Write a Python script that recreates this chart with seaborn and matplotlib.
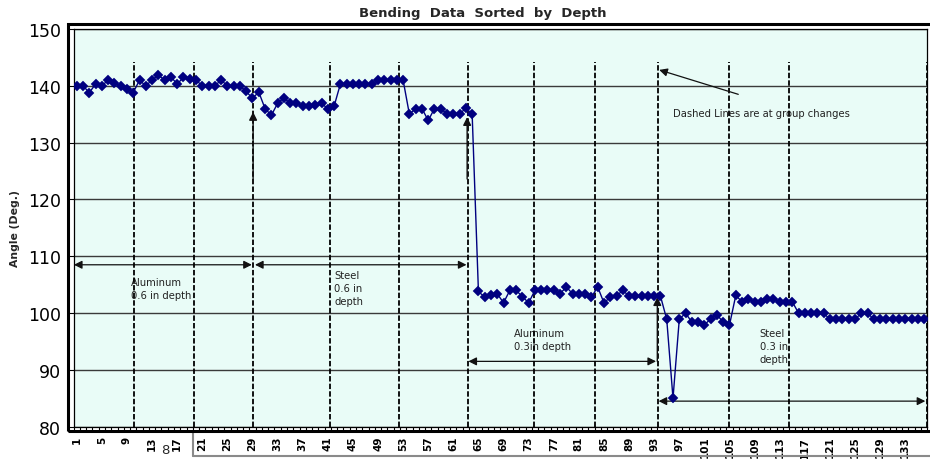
import numpy as np
import pandas as pd
import matplotlib
matplotlib.use("Agg")
import matplotlib.pyplot as plt
import seaborn as sns
from matplotlib.patches import Rectangle
from matplotlib.lines import Line2D

sns.set_theme(style="white")
plt.rcParams["font.family"] = ["DejaVu Sans"]

# Bend angle (degrees) for each specimen, sorted by depth
angles = [
    140.0, 140.0, 138.8, 140.3, 140.0, 141.0, 140.5, 140.0, 139.4, 138.8,
    141.0, 140.0, 141.0, 141.9, 141.0, 141.6, 140.3, 141.5, 141.2, 141.0,
    140.0, 140.0, 140.0, 141.0, 140.0, 140.0, 140.0, 139.0, 137.8, 138.9,
    136.0, 134.8, 136.9, 137.9, 136.9, 136.9, 136.5, 136.5, 136.6, 136.9,
    136.0, 136.4, 140.3, 140.3, 140.3, 140.3, 140.3, 140.3, 141.0, 141.0,
    141.0, 141.0, 141.0, 135.0, 136.0, 136.0, 133.9, 136.0, 136.0, 135.0,
    135.0, 135.0, 136.1, 135.0, 103.8, 102.8, 103.1, 103.4, 101.8, 104.0,
    104.0, 102.9, 101.8, 104.0, 104.0, 104.0, 104.0, 103.4, 104.6, 103.4,
    103.4, 103.4, 102.8, 104.6, 101.8, 102.8, 103.0, 104.0, 103.0, 103.0,
    103.0, 103.0, 103.0, 103.0, 98.9, 85.0, 98.9, 100.0, 98.4, 98.4,
    97.9, 99.0, 99.7, 98.4, 97.9, 103.1, 102.0, 102.4, 102.0, 102.0,
    102.4, 102.4, 102.0, 102.0, 102.0, 100.0, 100.0, 100.0, 100.0, 100.0,
    98.9, 98.9, 98.9, 98.9, 98.9, 100.0, 100.0, 98.9, 98.9, 98.9,
    98.9, 98.9, 98.9, 98.9, 98.9, 98.9,
]
samples = list(range(1, len(angles) + 1))
tick_samples = list(range(1, 134, 4))
y_ticks = [80, 90, 100, 110, 120, 130, 140, 150]

# Positions of the dashed group-change markers (in sample units)
group_breaks = [10.1, 19.7, 29.1, 41.4, 52.4, 63.4, 73.9, 83.6, 93.6, 104.9, 114.5, 136.4]

title = "Bending  Data  Sorted  by  Depth"
y_label = "Angle (Deg.)"
note = "Dashed Lines are at group changes"

# (label, arrow start, arrow end, arrow level, text x, text top)
groups = [
    ("Aluminum\n0.6 in depth", 0.55, 28.9, 108.5, 9.65, 106.4),
    ("Steel\n0.6 in\ndepth", 29.4, 63.1, 108.5, 42.0, 107.5),
    ("Aluminum\n0.3in depth", 63.4, 93.3, 91.5, 70.6, 97.3),
    ("Steel\n0.3 in\ndepth", 93.7, 136.2, 84.5, 109.8, 97.3),
]
# (x, tail level, tip level)
pointers = [(29.1, 123.6, 135.4), (63.2, 123.6, 134.5), (93.5, 91.5, 102.8)]

df = pd.DataFrame({"Sample": samples, "Angle": angles})

W, H = 930, 460
fig = plt.figure(figsize=(W / 100, H / 100), dpi=100)
fig.patch.set_facecolor("white")
left, right, top, bottom = 73.6, 927.2, 30.0, 427.7
ax = fig.add_axes([left / W, 1 - bottom / H, (right - left) / W, (bottom - top) / H])
ax.set_facecolor("#e9fcf7")

ax.set_xlim(0.5, len(angles) + 0.5)
ax.set_ylim(80, 150)

# horizontal grid
ax.set_yticks(y_ticks)
ax.yaxis.grid(True, color="#3a3a3a", lw=1.0)
ax.xaxis.grid(False)
ax.set_axisbelow(True)

# dashed group-change markers
for b in group_breaks:
    ax.axvline(b, ymin=0, ymax=(144.2 - 80) / 70, color="black", lw=1.3,
               linestyle=(0, (3, 1.2)), zorder=4)

# data series
sns.lineplot(data=df, x="Sample", y="Angle", ax=ax, color="#000080", lw=1.0,
             marker="D", markersize=5.0, markeredgecolor="#000080",
             markeredgewidth=0.3, zorder=6)

# group spans and labels
for label, x0, x1, lvl, tx, ty in groups:
    ax.annotate("", xy=(x1, lvl), xytext=(x0, lvl),
                arrowprops=dict(arrowstyle="<|-|>", color="#111111", lw=0.9,
                                mutation_scale=12, shrinkA=0, shrinkB=0), zorder=3)
    ax.text(tx, ty, label, fontsize=7.2, color="#222222", ha="left", va="top",
            linespacing=1.35, zorder=3)

for x, tail, tip in pointers:
    ax.annotate("", xy=(x, tip), xytext=(x, tail),
                arrowprops=dict(arrowstyle="-|>", color="#111111", lw=1.0,
                                mutation_scale=12, shrinkA=0, shrinkB=0), zorder=5)

# note with pointer
ax.annotate("", xy=(93.8, 142.8), xytext=(106.4, 138.5),
            arrowprops=dict(arrowstyle="-|>", color="#111111", lw=0.9,
                            mutation_scale=12, shrinkA=0, shrinkB=0), zorder=5)
ax.text(96.0, 135.2, note, fontsize=7.2, color="#222222", ha="left", va="center", zorder=3)

# axes styling
for s in ax.spines.values():
    s.set_color("black")
    s.set_linewidth(0.9)
ax.set_xticks(tick_samples)
ax.set_xticklabels([str(t) for t in tick_samples])
ax.set_xticks(np.arange(0.5, len(angles) + 1, 1), minor=True)
ax.tick_params(axis="x", which="major", length=0, pad=6.5, labelsize=7.5,
               labelrotation=90, colors="black")
ax.tick_params(axis="x", which="minor", length=3, width=0.8, direction="out",
               color="black", bottom=True)
for lab in ax.get_xticklabels():
    lab.set_fontweight("bold")
ax.tick_params(axis="y", length=4, width=0.8, pad=5, labelsize=12.5,
               colors="black", left=True)
ax.set_xlabel("")
ax.set_ylabel("")

# outer chart frame
fig.add_artist(Rectangle((68 / W, 1 - 432 / H), (934 - 68) / W, (432 - 25) / H,
                         transform=fig.transFigure, fill=False, lw=2.2,
                         ec="black", zorder=10))
# bottom frame fragment
fig.add_artist(Line2D([193 / W, 1.0], [1 - 457 / H, 1 - 457 / H],
                      transform=fig.transFigure, color="#8a8a8a", lw=1.5))
fig.add_artist(Line2D([193 / W, 193 / W], [1 - 432 / H, 1 - 457 / H],
                      transform=fig.transFigure, color="#8a8a8a", lw=1.5))
fig.text(165 / W, 1 - 451 / H, "8", fontsize=9.5, ha="center", va="center")

fig.text(483 / W, 1 - 14 / H, title, ha="center", va="center",
         fontsize=9.5, fontweight="bold")
fig.text(15 / W, 1 - 229 / H, y_label, rotation=90, ha="center", va="center",
         fontsize=7.8, fontweight="bold")

fig.savefig("out.png", dpi=100, facecolor="white")
